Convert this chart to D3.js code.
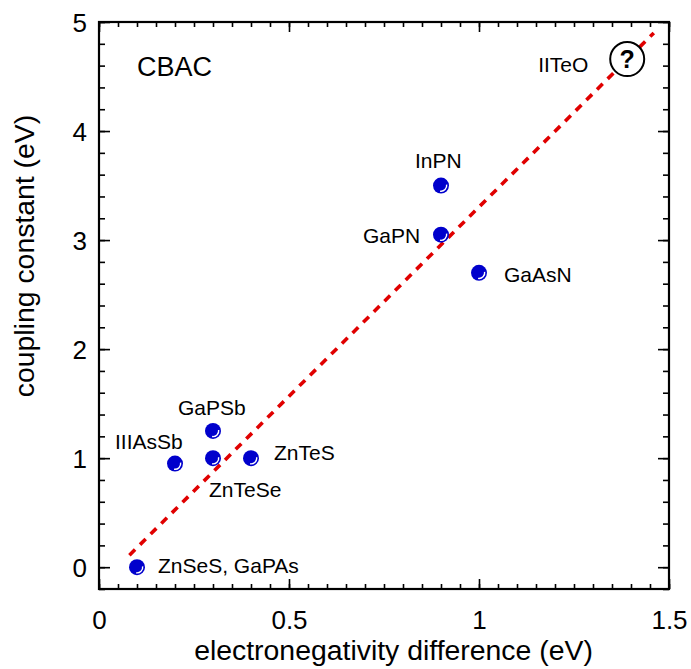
<!DOCTYPE html>
<html><head><meta charset="utf-8">
<script src="https://cdn.jsdelivr.net/npm/d3@7"></script>
<style>body{margin:0;background:#fff}svg{display:block}text{font-family:"Liberation Sans",Arial,sans-serif}</style>
</head><body><svg id="c" width="691" height="669"></svg>
<script>
// ---- data ----
const names = ["ZnSeS, GaPAs","IIIAsSb","GaPSb","ZnTeSe","ZnTeS","GaPN","InPN","GaAsN"];
const enDiff = [0.1, 0.2, 0.3, 0.3, 0.4, 0.9, 0.9, 1.0];
const coupling = [0.0, 0.95, 1.25, 1.0, 1.0, 3.05, 3.5, 2.7];
const fitX = [0.08, 1.46];
const fitY = [0.11, 4.9];
const unknownName = "IITeO";
const unknownX = [1.39];
const unknownY = [4.66];
const xTicks = [0, 0.5, 1, 1.5];
const yTicks = [0, 1, 2, 3, 4, 5];
const xTickLabels = ["0", "0.5", "1", "1.5"];
const yTickLabels = ["0", "1", "2", "3", "4", "5"];

// ---- layout (label offsets in px, anchor) ----
const labelLayout = [
  {dx: 21, dy: 6, anchor: "start"},
  {dx: -60, dy: -15, anchor: "start"},
  {dx: -35, dy: -16, anchor: "start"},
  {dx: -4, dy: 39, anchor: "start"},
  {dx: 23, dy: 2, anchor: "start"},
  {dx: -78, dy: 8, anchor: "start"},
  {dx: -26, dy: -18, anchor: "start"},
  {dx: 25, dy: 9, anchor: "start"}
];

const svg = d3.select("#c");
const L = 99, R = 669, T = 22, B = 589;
const x = d3.scaleLinear().domain([0, 1.5]).range([L, R]);
const y = d3.scaleLinear().domain([-0.2, 5]).range([B, T]);

// fit line
svg.append("line")
  .attr("x1", x(fitX[0])).attr("y1", y(fitY[0]))
  .attr("x2", x(fitX[1])).attr("y2", y(fitY[1]))
  .attr("stroke", "#e00000").attr("stroke-width", 3.6)
  .attr("stroke-dasharray", "8,7").attr("stroke-linecap", "butt");

// axes (ticks inward)
const fmt = (labels, ticks) => d => { const i = ticks.indexOf(d); return i >= 0 ? labels[i] : ""; };
const xMinor = d3.range(0, 1.5001, 0.05).map(v => +v.toFixed(2));
const yMinor = d3.range(-0.2, 5.0001, 0.2).map(v => +v.toFixed(2));

function styleAxis(g) {
  g.select(".domain").remove();
  g.selectAll("line").attr("stroke", "#000").attr("stroke-width", 1.6);
}
svg.append("g").attr("transform", `translate(0,${B})`)
  .call(d3.axisBottom(x).tickValues(xMinor).tickSize(-5).tickFormat(""))
  .call(styleAxis);
svg.append("g").attr("transform", `translate(0,${B})`)
  .call(d3.axisBottom(x).tickValues(xTicks).tickSize(-10).tickPadding(22).tickFormat(fmt(xTickLabels, xTicks)))
  .call(styleAxis)
  .call(g => g.selectAll("text").attr("font-size", 26).attr("fill", "#000").attr("dy", "0.71em"));
svg.append("g").attr("transform", `translate(0,${T})`)
  .call(d3.axisTop(x).tickValues(xMinor).tickSize(-5).tickFormat(""))
  .call(styleAxis);
svg.append("g").attr("transform", `translate(0,${T})`)
  .call(d3.axisTop(x).tickValues(xTicks).tickSize(-10).tickFormat(""))
  .call(styleAxis);
svg.append("g").attr("transform", `translate(${L},0)`)
  .call(d3.axisLeft(y).tickValues(yMinor).tickSize(-6).tickFormat(""))
  .call(styleAxis);
svg.append("g").attr("transform", `translate(${L},0)`)
  .call(d3.axisLeft(y).tickValues(yTicks).tickSize(-11).tickPadding(12).tickFormat(fmt(yTickLabels, yTicks)))
  .call(styleAxis)
  .call(g => g.selectAll("text").attr("font-size", 26).attr("fill", "#000").attr("x", -12).attr("dy", "0.36em"));
svg.append("g").attr("transform", `translate(${R},0)`)
  .call(d3.axisRight(y).tickValues(yMinor).tickSize(-6).tickFormat(""))
  .call(styleAxis);
svg.append("g").attr("transform", `translate(${R},0)`)
  .call(d3.axisRight(y).tickValues(yTicks).tickSize(-11).tickFormat(""))
  .call(styleAxis);

// frame
svg.append("rect").attr("x", L).attr("y", T).attr("width", R - L).attr("height", B - T)
  .attr("fill", "none").attr("stroke", "#000").attr("stroke-width", 2.2);

// points
const pts = svg.append("g").selectAll("g").data(names.map((n, i) => ({n, x: enDiff[i], y: coupling[i], i})))
  .join("g").attr("transform", d => `translate(${x(d.x)},${y(d.y)})`);
pts.append("circle").attr("r", 8).attr("fill", "#0000cc");
pts.append("path")
  .attr("d", d3.arc()({innerRadius: 5, outerRadius: 6.4, startAngle: Math.PI * 0.45, endAngle: Math.PI * 1.05}))
  .attr("fill", "#fff");
pts.append("text")
  .attr("x", d => labelLayout[d.i].dx).attr("y", d => labelLayout[d.i].dy)
  .attr("text-anchor", d => labelLayout[d.i].anchor)
  .attr("font-size", 21).attr("fill", "#000").text(d => d.n);

// unknown point
const u = svg.append("g").attr("transform", `translate(${x(unknownX[0])},${y(unknownY[0])})`);
u.append("circle").attr("r", 17).attr("fill", "#fff").attr("stroke", "#000").attr("stroke-width", 2);
u.append("text").attr("text-anchor", "middle").attr("y", 9).attr("font-size", 25).attr("font-weight", "bold").text("?");
u.append("text").attr("x", -89).attr("y", 13).attr("font-size", 21).text(unknownName);

// CBAC
svg.append("text").attr("x", 137).attr("y", 76).attr("font-size", 27).text("CBAC");

// axis titles
svg.append("text").attr("x", 393.5).attr("y", 660).attr("text-anchor", "middle")
  .attr("font-size", 28.4).text("electronegativity difference (eV)");
svg.append("text").attr("transform", `translate(34,256) rotate(-90)`).attr("text-anchor", "middle")
  .attr("font-size", 28.4).text("coupling constant (eV)");
</script></body></html>
